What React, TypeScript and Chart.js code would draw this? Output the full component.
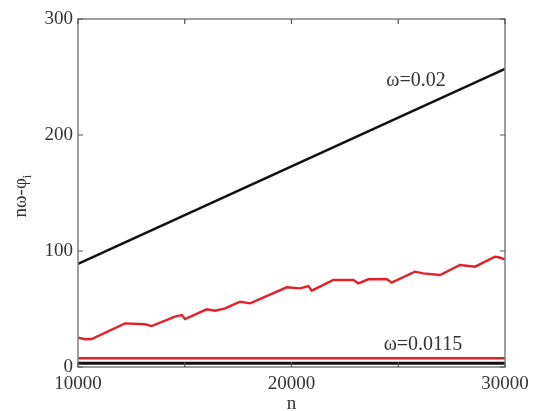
import React, { useEffect, useRef } from "react";
import { Chart, registerables } from "chart.js";

Chart.register(...registerables);

// Data
const nLinear = [10000, 30000];
const linearValues = [89, 257]; // omega = 0.02

const nRed = [10000, 10330, 10640, 12200, 13140, 13450, 14540, 14860, 15010, 16030, 16420, 16890, 17590, 18060, 19780, 20400, 20790, 20950, 21960, 22900, 23130, 23600, 24460, 24690, 25780, 26170, 26960, 27890, 28600, 29530, 29690, 30000];
const redValues = [25.3, 23.9, 24.1, 37.6, 36.8, 35.3, 43.4, 44.8, 41.4, 49.7, 48.5, 50.6, 56.3, 54.9, 68.7, 67.8, 69.8, 65.8, 75, 75, 72.1, 75.6, 75.9, 72.7, 82.2, 80.7, 79.3, 87.9, 86.5, 95.1, 94.6, 92.8];

const nFlat = [10000, 30000];
const redFlatValues = [7.5, 7.5]; // omega = 0.0115
const blackFlatValues = [3.2, 3.2];

const xTickLabels = [10000, 20000, 30000];
const xTickMarks = [10000, 15000, 20000, 25000, 30000];
const yTickMarks = [0, 100, 200, 300];

const FONT = "'Liberation Serif', 'Times New Roman', serif";

const toPoints = (xs: number[], ys: number[]) => xs.map((x, i) => ({ x, y: ys[i] }));

const framePlugin = {
  id: "frame",
  afterDatasetsDraw(chart: any) {
    const { ctx, chartArea } = chart;
    const { left, right, top, bottom } = chartArea;
    const xs = chart.scales.x;
    const ys = chart.scales.y;
    ctx.save();
    ctx.strokeStyle = "#7d7d7d";
    ctx.lineWidth = 1.5;
    ctx.strokeRect(left, top, right - left, bottom - top);
    ctx.lineWidth = 1.2;
    ctx.strokeStyle = "#555";
    const tl = 5;
    xTickMarks.forEach((v) => {
      const px = xs.getPixelForValue(v);
      ctx.beginPath();
      ctx.moveTo(px, bottom);
      ctx.lineTo(px, bottom - tl);
      ctx.moveTo(px, top);
      ctx.lineTo(px, top + tl);
      ctx.stroke();
    });
    yTickMarks.forEach((v) => {
      const py = ys.getPixelForValue(v);
      ctx.beginPath();
      ctx.moveTo(left, py);
      ctx.lineTo(left + tl, py);
      ctx.moveTo(right, py);
      ctx.lineTo(right - tl, py);
      ctx.stroke();
    });

    // annotations
    ctx.fillStyle = "#333";
    ctx.font = `20px ${FONT}`;
    ctx.textAlign = "center";
    ctx.textBaseline = "alphabetic";
    ctx.fillText("ω=0.02", xs.getPixelForValue(25830), ys.getPixelForValue(242));
    ctx.fillText("ω=0.0115", xs.getPixelForValue(26160), ys.getPixelForValue(14.7));

    // x title
    ctx.font = `19px ${FONT}`;
    ctx.fillText("n", (left + right) / 2, 409);

    // y title with subscript, rotated
    ctx.save();
    ctx.translate(26, 196);
    ctx.rotate(-Math.PI / 2);
    ctx.textAlign = "left";
    ctx.font = `19px ${FONT}`;
    const main = "nω-φ";
    const wMain = ctx.measureText(main).width;
    ctx.font = `13px ${FONT}`;
    const wSub = ctx.measureText("i").width;
    const start = -(wMain + wSub) / 2;
    ctx.font = `19px ${FONT}`;
    ctx.fillText(main, start, 0);
    ctx.font = `13px ${FONT}`;
    ctx.fillText("i", start + wMain, 5);
    ctx.restore();

    ctx.restore();
  },
};

export default function App() {
  const ref = useRef<HTMLCanvasElement | null>(null);
  useEffect(() => {
    if (!ref.current) return;
    const chart = new Chart(ref.current, {
      type: "line",
      data: {
        datasets: [
          {
            data: toPoints(nFlat, blackFlatValues),
            borderColor: "#111",
            borderWidth: 3,
          },
          {
            data: toPoints(nFlat, redFlatValues),
            borderColor: "rgb(226,32,40)",
            borderWidth: 2.5,
          },
          {
            data: toPoints(nRed, redValues),
            borderColor: "rgb(226,32,40)",
            borderWidth: 2.4,
          },
          {
            data: toPoints(nLinear, linearValues),
            borderColor: "#111",
            borderWidth: 2.5,
          },
        ],
      },
      options: {
        responsive: false,
        animation: false,
        events: [],
        layout: { padding: { top: 19, right: 32, left: 0, bottom: 0 } },
        elements: { point: { radius: 0 }, line: { tension: 0 } },
        plugins: { legend: { display: false }, tooltip: { enabled: false } },
        scales: {
          x: {
            type: "linear",
            min: 10000,
            max: 30000,
            afterFit: (s: any) => {
              s.height = 44;
            },
            afterBuildTicks: (s: any) => {
              s.ticks = xTickLabels.map((v) => ({ value: v }));
            },
            grid: { display: false, drawTicks: false },
            border: { display: false },
            ticks: {
              padding: 6,
              color: "#333",
              font: { family: FONT, size: 19 },
              maxRotation: 0,
              callback: (v: any) => String(v),
            },
          },
          y: {
            type: "linear",
            min: 0,
            max: 300,
            afterFit: (s: any) => {
              s.width = 78;
            },
            afterBuildTicks: (s: any) => {
              s.ticks = yTickMarks.map((v) => ({ value: v }));
            },
            grid: { display: false, drawTicks: false },
            border: { display: false },
            ticks: {
              padding: 5,
              color: "#333",
              font: { family: FONT, size: 19 },
              callback: (v: any) => String(v),
            },
          },
        },
      },
      plugins: [framePlugin],
    });
    return () => chart.destroy();
  }, []);
  return (
    <div style={{ position: "absolute", left: 0, top: 0, width: 537, height: 411, background: "#fff" }}>
      <canvas ref={ref} width={537} height={411} />
    </div>
  );
}
